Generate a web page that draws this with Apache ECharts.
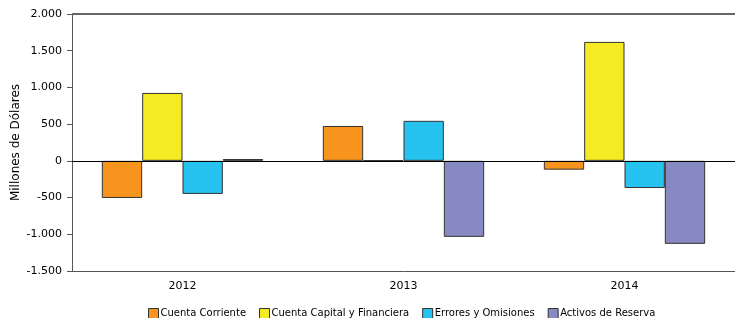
<!DOCTYPE html>
<html>
<head>
<meta charset="utf-8">
<script src="https://cdn.jsdelivr.net/npm/echarts@6/dist/echarts.min.js"></script>
<style>
  html, body { margin: 0; padding: 0; background: #fff; }
  #main { width: 735px; height: 318px; }
</style>
</head>
<body>
<div id="main"></div>
<script>
//--------------------数据---------------------------
var years = ['2012', '2013', '2014'];
var cuentaCorriente = [-505, 475, -120];
var cuentaCapital = [925, 5, 1620];
var errores = [-450, 545, -370];
var activos = [25, -1035, -1130];
var seriesNames = ['Cuenta Corriente', 'Cuenta Capital y Financiera', 'Errores y Omisiones', 'Activos de Reserva'];
var seriesColors = ['#F7941D', '#F5EB22', '#27C3F0', '#8689C2'];
//--------------------数据---------------------------

function fmt(v) {
    var s = String(Math.abs(v)).replace(/\B(?=(\d{3})+(?!\d))/g, '.');
    return (v < 0 ? '-' : '') + s;
}

var myChart = echarts.init(document.getElementById('main'));
var allData = [cuentaCorriente, cuentaCapital, errores, activos];
var series = allData.map(function (d, i) {
    return {
        name: seriesNames[i],
        type: 'bar',
        data: d,
        barGap: '0%',
        barCategoryGap: '27%',
        itemStyle: {
            color: seriesColors[i],
            borderColor: '#333',
            borderWidth: 1
        }
    };
});

var option = {
    animation: false,
    textStyle: { fontFamily: 'DejaVu Sans' },
    grid: { left: 72, right: 0, top: 14, bottom: 47, containLabel: false, outerBoundsMode: 'none' },
    legend: {
        bottom: -6,
        left: 143,
        itemWidth: 10,
        itemHeight: 10,
        itemGap: 13,
        icon: 'rect',
        textStyle: { fontSize: 10, color: '#000', fontFamily: 'DejaVu Sans', padding: [0, 0, 0, -3] },
        itemStyle: { borderColor: '#333', borderWidth: 1 },
        data: seriesNames
    },
    xAxis: {
        type: 'category',
        data: years,
        position: 'bottom',
        axisLine: { onZero: false, lineStyle: { color: '#555', width: 1 } },
        axisTick: { show: false },
        axisLabel: { color: '#000', fontSize: 11, margin: 10 }
    },
    yAxis: {
        type: 'value',
        min: -1500,
        max: 2000,
        interval: 500,
        name: 'Millones de Dólares',
        nameLocation: 'middle',
        nameGap: 50,
        nameMoveOverlap: false,
        nameTextStyle: { color: '#000', fontSize: 12 },
        axisLine: { show: true, lineStyle: { color: '#555' } },
        axisTick: { show: true, length: 5, inside: false, lineStyle: { color: '#555' } },
        axisLabel: { color: '#000', fontSize: 11, margin: 10, formatter: fmt },
        splitLine: { show: false }
    },
    series: series.concat([{
        type: 'line',
        data: [],
        markLine: {
            silent: true,
            symbol: 'none',
            label: { show: false },
            lineStyle: { color: '#000', width: 1, type: 'solid' },
            data: [{ yAxis: 0 }]
        }
    }, {
        type: 'line',
        data: [],
        markLine: {
            silent: true,
            symbol: 'none',
            label: { show: false },
            lineStyle: { color: '#666', width: 2, type: 'solid' },
            data: [{ yAxis: 2000 }]
        }
    }])
};
myChart.setOption(option);
</script>
</body>
</html>
